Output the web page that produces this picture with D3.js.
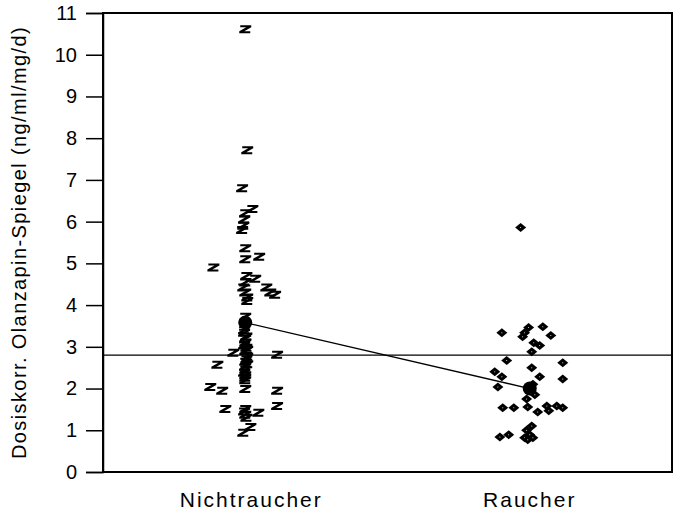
<!DOCTYPE html>
<html>
<head>
<meta charset="utf-8">
<script src="https://cdn.jsdelivr.net/npm/d3@7"></script>
<style>
  body { margin: 0; background: #fff; }
  text { font-family: "Liberation Sans", Arial, sans-serif; fill: #000; }
</style>
</head>
<body>
<svg id="canvas"></svg>
<script>
let width = 680
let height = 516

// group names and their position on the x axis
let groups = ['Nichtraucher', 'Raucher']
let groupPos = [1, 2]

let yTicks = [0, 1, 2, 3, 4, 5, 6, 7, 8, 9, 10, 11]

// Nichtraucher: values and horizontal jitter (x units)
let nrValues = [10.61, 7.71, 6.8, 6.3, 6.2, 6.05, 5.9, 5.8, 5.36, 5.1, 5.16, 4.9,
  4.7, 4.63, 4.54, 4.42, 4.3, 4.18, 4.42, 4.25, 4.3, 3.72, 4.1, 3.34, 3.2, 3.1,
  2.86, 2.93, 2.81, 2.76, 2.64, 2.52, 2.45, 2.57, 2.26, 1.99, 2.04, 1.95, 1.95,
  1.58, 1.51, 1.51, 1.42, 1.37, 1.08, 0.94, 2.98, 3.03, 2.7, 2.58, 2.38, 2.32,
  3.25, 3.4, 2.9, 1.45, 1.3, 2.2]
let nrJitter = [0, 0.007, -0.011, 0.025, 0, -0.004, -0.007, -0.011, 0, 0, 0.049, -0.112,
  0.004, 0.035, 0, -0.007, 0, 0.007, 0.074, 0.105, 0.088, 0, 0.007, -0.004, 0, 0,
  -0.042, 0.007, 0.112, 0.007, 0, 0, 0, -0.098, 0, 0, -0.123, -0.081, 0.112,
  0.112, -0.07, 0, 0.046, 0, 0.018, -0.007, 0.004, -0.004, 0.004, 0.007, -0.004, 0,
  0.004, -0.004, 0, -0.004, 0.004, 0]

// Raucher: values and horizontal jitter (x units)
let rValues = [5.86, 3.34, 3.46, 3.48, 3.34, 3.24, 3.27, 3.1, 3.03, 2.88, 2.67, 2.62,
  2.5, 2.4, 2.28, 2.28, 2.23, 2.04, 1.54, 1.54, 1.56, 1.44, 1.58, 1.47, 1.58, 1.54,
  1.1, 1.0, 0.89, 0.84, 0.89, 0.82, 0.82, 0.77, 1.95, 1.85, 1.75, 2.1]
let rJitter = [-0.032, -0.098, -0.004, 0.046, -0.018, -0.025, 0.074, 0.014, 0.035, 0.007, -0.081, 0.116,
  0.007, -0.123, -0.098, 0.035, 0.116, -0.112, -0.095, -0.056, -0.007, 0.028, 0.06, 0.067, 0.095, 0.116,
  0.007, -0.011, 0, -0.105, -0.074, -0.018, 0.011, -0.007, 0.004, 0.018, -0.011, 0.011]

// group means and overall mean
let groupMeans = [3.58, 2.0]
let overallMean = 2.8

let margin = {top: 13, right: 8, bottom: 44, left: 103}

let canvas = d3.select('#canvas')
canvas.attr('width', width)
      .attr('height', height)

let xScale = d3.scaleLinear()
               .domain([0.5, 2.5])
               .range([margin.left, width - margin.right])

let yScale = d3.scaleLinear()
               .domain([0, 11])
               .range([height - margin.bottom, margin.top])

/*frame*/
canvas.append('rect')
      .attr('x', margin.left)
      .attr('y', margin.top)
      .attr('width', width - margin.right - margin.left)
      .attr('height', height - margin.bottom - margin.top)
      .attr('fill', 'none')
      .attr('stroke', '#000')
      .attr('stroke-width', 2)

/*y axis*/
let yAxis = canvas.append('g')
    .attr('transform', 'translate(' + margin.left + ',0)')
    .call(d3.axisLeft(yScale).tickValues(yTicks).tickSize(17).tickPadding(9))
yAxis.select('.domain').attr('stroke-width', 1.5)
yAxis.selectAll('.tick line').attr('stroke-width', 1.5)
yAxis.selectAll('.tick text')
     .style('font-size', '20px')
     .style('font-family', '"Liberation Sans", Arial, sans-serif')

canvas.append('text')
      .attr('transform', 'translate(26,' + ((margin.top + height - margin.bottom) / 2) + ') rotate(-90)')
      .attr('text-anchor', 'middle')
      .style('font-size', '20px')
      .style('letter-spacing', '1.4px')
      .text('Dosiskorr. Olanzapin-Spiegel (ng/ml/mg/d)')

/*x labels*/
let labelShift = [6, 0]
canvas.selectAll('.xlabel')
      .data(groups)
      .enter()
      .append('text')
      .attr('class', 'xlabel')
      .attr('x', (d, i) => xScale(groupPos[i]) + labelShift[i])
      .attr('y', 507)
      .attr('text-anchor', 'middle')
      .style('font-size', '21px')
      .style('letter-spacing', '2px')
      .text((d) => d)

/*overall mean line*/
canvas.append('line')
      .attr('x1', xScale(0.5))
      .attr('x2', xScale(2.5))
      .attr('y1', yScale(overallMean))
      .attr('y2', yScale(overallMean))
      .attr('stroke', '#000')
      .attr('stroke-width', 1.3)

/*points*/
let zPath = 'M-5,-4L6,-4L6,-2L-1,2L5,2L5,4L-6,4L-6,2L1,-2L-5,-2Z'
canvas.selectAll('.nr')
      .data(nrValues)
      .enter()
      .append('path')
      .attr('class', 'nr')
      .attr('d', zPath)
      .attr('transform', (d, i) => 'translate(' + xScale(groupPos[0] + nrJitter[i]) + ',' + yScale(d) + ')')
      .attr('fill', '#000')

let diamond = 'M-5.5,0L0,-4.5L5.5,0L0,4.5Z'
let rg = canvas.selectAll('.r')
      .data(rValues)
      .enter()
      .append('g')
      .attr('class', 'r')
      .attr('transform', (d, i) => 'translate(' + xScale(groupPos[1] + rJitter[i]) + ',' + yScale(d) + ')')
rg.append('path').attr('d', diamond).attr('fill', '#000')
rg.append('circle').attr('r', 0.5).attr('fill', '#fff')

/*mean line and dots*/
canvas.append('path')
      .datum(groupMeans)
      .attr('d', d3.line().x((d, i) => xScale(groupPos[i])).y((d) => yScale(d)))
      .attr('fill', 'none')
      .attr('stroke', '#000')
      .attr('stroke-width', 1.3)

canvas.selectAll('.mean')
      .data(groupMeans)
      .enter()
      .append('circle')
      .attr('class', 'mean')
      .attr('cx', (d, i) => xScale(groupPos[i]))
      .attr('cy', (d) => yScale(d))
      .attr('r', 7)
      .attr('fill', '#000')
</script>
</body>
</html>
